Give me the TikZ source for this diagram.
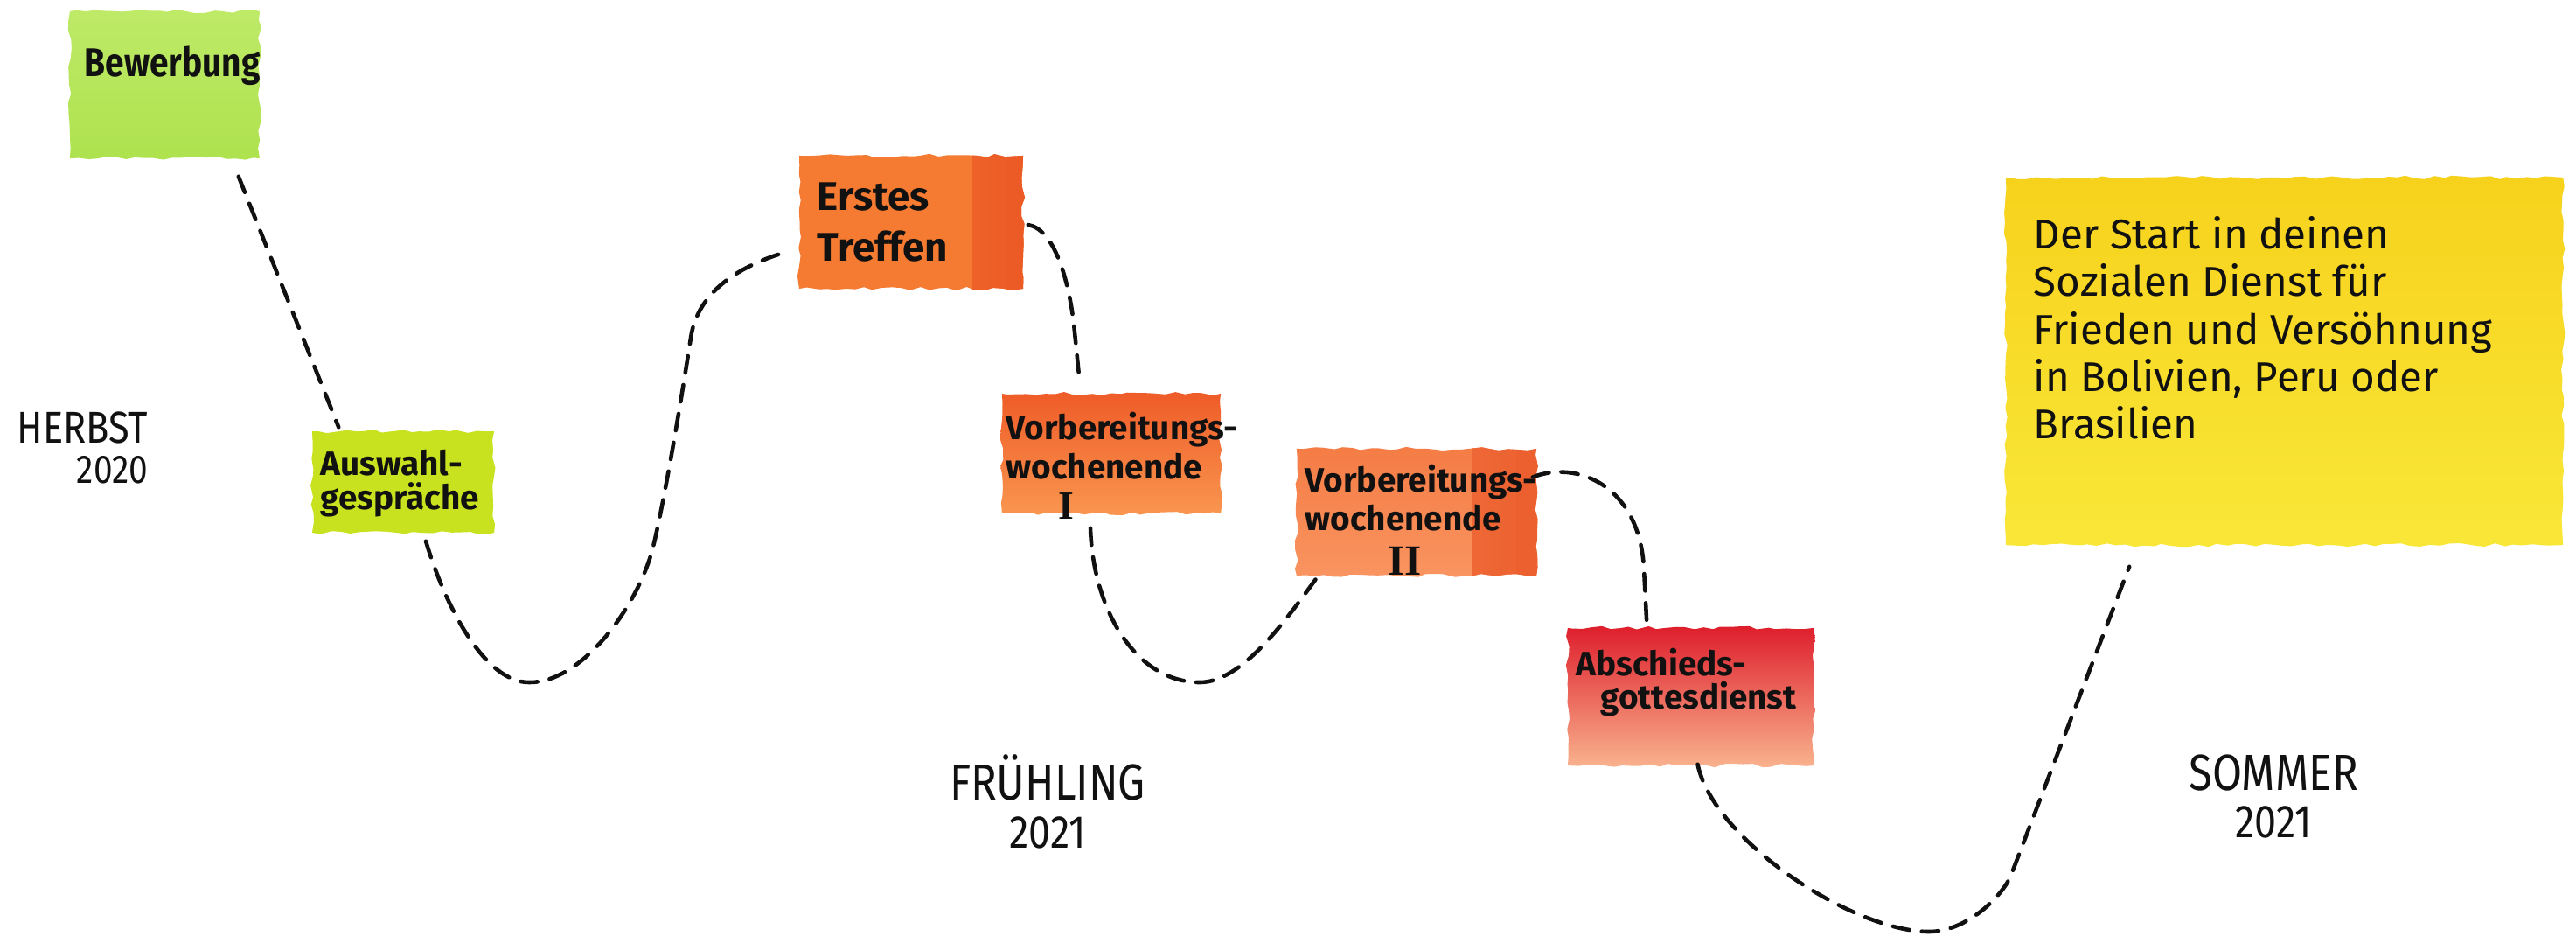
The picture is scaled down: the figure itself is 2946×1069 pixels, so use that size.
\documentclass[tikz,border=0pt]{standalone}
\usepackage{fontspec}
\setmainfont{Fira Sans}
\newfontfamily\seasonfont[FakeStretch=0.85]{Fira Sans}
\newfontfamily\condfont[FakeStretch=0.85]{Fira Sans}
\newfontfamily\numeralfont{Liberation Serif}
\usetikzlibrary{calc,decorations.pathmorphing}
\definecolor{bewlight}{HTML}{BEEA68}
\definecolor{bewgreen}{HTML}{AEE24E}
\definecolor{ausgreen}{HTML}{C9E21F}
\definecolor{ersorange}{HTML}{F57B32}
\definecolor{ersdark}{HTML}{EC5A26}
\definecolor{vwonetop}{HTML}{EF5B28}
\definecolor{vwonebot}{HTML}{F9964F}
\definecolor{vwtwotop}{HTML}{F57C45}
\definecolor{vwtwobot}{HTML}{F99460}
\definecolor{vwtwodark}{HTML}{EC6030}
\definecolor{absred}{HTML}{DE1E2C}
\definecolor{absmid}{HTML}{EC4D45}
\definecolor{abslight}{HTML}{F9B38E}
\definecolor{yeltop}{HTML}{F7D21C}
\definecolor{yelbot}{HTML}{F9E738}
\definecolor{ink}{HTML}{111111}
\begin{document}
\pgfmathsetseed{7}
\begin{tikzpicture}[x=0.01cm,y=-0.01cm,
  wash/.style={rectangle, inner sep=0pt, decorate,
    decoration={random steps, segment length=3pt, amplitude=0.6pt}},
  lbl/.style={inner sep=0pt, anchor=north west, align=left, text=ink},
  season/.style={inner sep=0pt, text=ink},
  trail/.style={draw=ink, line width=1.3pt, dash pattern=on 5.5pt off 4pt, line cap=round}
]
\useasboundingbox (0,0) rectangle (2946,1069);
\fill[white] (0,0) rectangle (2946,1069);

% boxes
\node[wash, top color=bewlight, bottom color=bewgreen, minimum width=2.17cm, minimum height=1.68cm] (bew) at (188.5,97) {};
\node[wash, fill=ausgreen, minimum width=2.08cm, minimum height=1.16cm] (aus) at (461,551) {};
\node[wash, fill=ersorange, minimum width=2.56cm, minimum height=1.52cm,
  path picture={\shade[left color=ersorange, right color=ersdark] ([xshift=-0.6cm]path picture bounding box.north east) rectangle ([xshift=-0.2cm]path picture bounding box.south east);
    \fill[ersdark] ([xshift=-0.2cm]path picture bounding box.north east) rectangle (path picture bounding box.south east);}] (ers) at (1042,254) {};
\node[wash, top color=vwonetop, bottom color=vwonebot, minimum width=2.5cm, minimum height=1.37cm] (vwa) at (1271,518.5) {};
\node[wash, top color=vwtwotop, bottom color=vwtwobot, minimum width=2.74cm, minimum height=1.45cm,
  path picture={\shade[left color=vwtwotop, right color=vwtwodark] ([xshift=-0.75cm]path picture bounding box.north east) rectangle ([xshift=-0.25cm]path picture bounding box.south east);
    \fill[vwtwodark] ([xshift=-0.25cm]path picture bounding box.north east) rectangle (path picture bounding box.south east);}] (vwb) at (1620,585.5) {};
\node[wash, top color=absred, middle color=absmid, bottom color=abslight, minimum width=2.81cm, minimum height=1.57cm] (abs) at (1933.5,796.5) {};
\node[wash, top color=yeltop, bottom color=yelbot, minimum width=6.37cm, minimum height=4.2cm] (yel) at (2612.5,413) {};

% box texts
\node[lbl, font=\condfont\bfseries\fontsize{13}{14}\selectfont] (bewt) at (96,52) {Bewerbung};
\node[lbl, font=\bfseries\fontsize{11}{11.2}\selectfont] (aust) at (366,513) {Auswahl-\\gespräche};
\node[lbl, font=\bfseries\fontsize{13}{16.5}\selectfont] (erst) at (934,208) {Erstes\\Treffen};
\node[lbl, font=\bfseries\fontsize{11}{13}\selectfont] (vwat) at (1150,470)
  {Vorbereitungs-\\wochenende\\\hspace*{17pt}{\numeralfont\bfseries\fontsize{13}{13}\selectfont I}};
\node[lbl, font=\bfseries\fontsize{11}{12.5}\selectfont] (vwbt) at (1492,530)
  {Vorbereitungs-\\wochenende\\[2pt]\hspace*{27pt}{\numeralfont\bfseries\fontsize{14}{13}\selectfont II}};
\node[lbl, font=\bfseries\fontsize{11}{10.8}\selectfont] (abst) at (1802,740) {Abschieds-\\\hspace*{8pt}gottesdienst};
\node[lbl, font=\fontsize{13.5}{15.4}\selectfont] (yelt) at (2325,247)
  {Der Start in deinen\\Sozialen Dienst für\\Frieden und Versöhnung\\in Bolivien, Peru oder\\Brasilien};

% seasons
\node[season, anchor=north east, align=right, font=\seasonfont\fontsize{14.5}{13.2}\selectfont] (herbst) at (170,470)
  {HERBST\\{\fontsize{13}{13}\selectfont 2020}};
\node[season, anchor=north, align=center, font=\seasonfont\fontsize{16.5}{15.6}\selectfont] (fruehling) at (1198,862)
  {FRÜHLING\\{\fontsize{15}{15}\selectfont 2021}};
\node[season, anchor=north, align=center, font=\seasonfont\fontsize{16.5}{15.4}\selectfont] (sommer) at (2600,862)
  {SOMMER\\{\fontsize{15}{15}\selectfont 2021}};

% waypoints
\coordinate (v1) at (605,780);
\coordinate (w2) at (747,625);
\coordinate (w3) at (790,386);
\coordinate (w4) at (1228,370);
\coordinate (v2) at (1372,780);
\coordinate (w5) at (1880,650);
\coordinate (v3) at (2206,1065);
\coordinate (w6) at (2300,1000);

% connectors
\draw[trail] ($(bew.south east)+(-25,20)$) -- ($(aus.north west)+(31,-4)$);
\draw[trail] ($(aus.south)+(26,9)$) .. controls +(23,77) and +(-50,0) .. (v1)
  .. controls +(60,1) and +(-17,68) .. (w2)
  .. controls +(14,-58) and +(-9,59) .. (w3)
  .. controls +(8,-55) and +(-50,15) .. ($(ers.west)+(-14,34)$);
\draw[trail] ($(ers.east)+(5,3)$) .. controls +(30,5) and +(-6,-50) .. (w4) -- ($(vwa.north)+(-36,-10)$);
\draw[trail] ($(vwa.south)+(-24,16)$) .. controls +(3,95) and +(-72,0) .. (v2)
  .. controls +(48,0) and +(-38,52) .. ($(vwb.south west)+(25,0)$);
\draw[trail] ($(vwb.east)+(-5,-40)$) .. controls +(50,-20) and +(-5,-95) .. (w5) -- ($(abs.north)+(-50,0)$);
\draw[trail] ($(abs.south)+(8,-2)$) .. controls +(18,87) and +(-86,0) .. (v3)
  .. controls +(44,0) and +(-9,23) .. (w6) -- ($(yel.south west)+(142,24)$);
\end{tikzpicture}
\end{document}
